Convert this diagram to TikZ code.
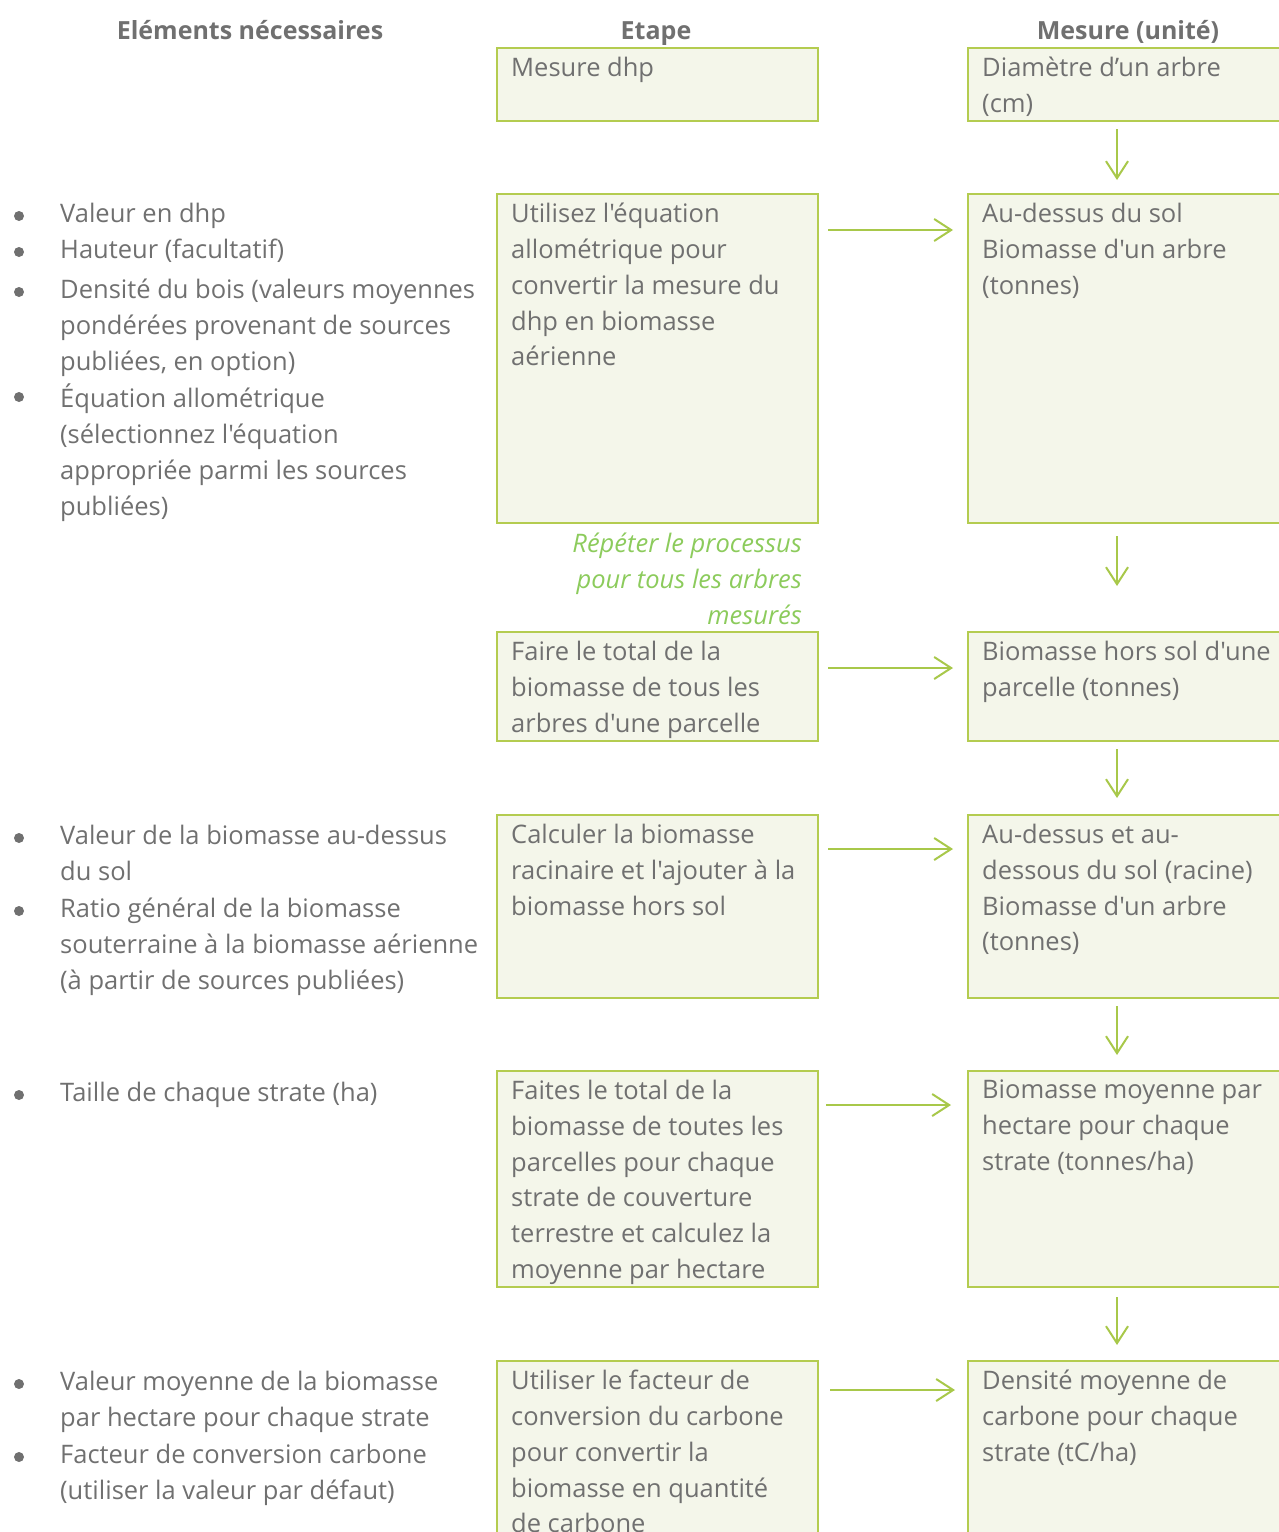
\documentclass[tikz,border=0pt]{standalone}
\usepackage{fontspec}
\newfontfamily\osf{Open Sans}
\usetikzlibrary{arrows.meta,calc}
\definecolor{txt}{HTML}{707070}
\definecolor{bord}{HTML}{B4CC50}
\definecolor{boxfill}{HTML}{F4F6EA}
\definecolor{arr}{HTML}{A8C84A}
\definecolor{ital}{HTML}{8CCB5C}
\tikzset{
  bx/.style={draw=bord, fill=boxfill, line width=2.2pt, anchor=north west, inner sep=0pt},
  tx/.style={anchor=north west, align=left, inner sep=0pt, text=txt,
     font=\osf\fontsize{25.5}{35.8}\selectfont, execute at begin node={\strut}},
  txm/.style={tx, yshift=-6pt},
  hd/.style={anchor=base, inner sep=0pt, text=txt,
     font=\osf\bfseries\fontsize{25}{35.8}\selectfont},
  bul/.style={circle, fill=txt, inner sep=0pt, minimum size=10pt},
  it/.style={anchor=north east, align=right, inner sep=0pt, text=ital, yshift=-6pt,
     font=\osf\itshape\fontsize{25.5}{35.8}\selectfont, execute at begin node={\strut}},
  ar/.style={draw=arr, line width=2pt, -{Straight Barb[length=17pt,width=22pt,line width=2pt]}}
}
\begin{document}
\begin{tikzpicture}[x=1pt,y=-1pt]
\useasboundingbox (0,0) rectangle (1278,1532);
% headers
\node[hd] (h1) at (250,39) {Eléments nécessaires};
\node[hd] (h2) at (656,39) {Etape};
\node[hd] (h3) at (1128,39) {Mesure (unité)};
% step boxes
\node[bx, minimum width=321pt, minimum height=73pt] (s1) at (496,47) {};
\node[bx, minimum width=321pt, minimum height=329pt] (s2) at (496,193) {};
\node[bx, minimum width=321pt, minimum height=109pt] (s3) at (496,631) {};
\node[bx, minimum width=321pt, minimum height=183pt] (s4) at (496,814) {};
\node[bx, minimum width=321pt, minimum height=216pt] (s5) at (496,1070) {};
\node[bx, minimum width=321pt, minimum height=200pt] (s6) at (496,1360) {};
% measure boxes
\node[bx, minimum width=340pt, minimum height=73pt] (m1) at (967,47) {};
\node[bx, minimum width=340pt, minimum height=329pt] (m2) at (967,193) {};
\node[bx, minimum width=340pt, minimum height=109pt] (m3) at (967,631) {};
\node[bx, minimum width=340pt, minimum height=183pt] (m4) at (967,814) {};
\node[bx, minimum width=340pt, minimum height=216pt] (m5) at (967,1070) {};
\node[bx, minimum width=340pt, minimum height=200pt] (m6) at (967,1360) {};
% step texts
\node[tx] (s1t) at ($(s1.north west)+(15,3.94)$) {Mesure dhp};
\node[txm] (s2t) at ($(s2.north west)+(15,3.94)$) {Utilisez l'équation\\allométrique pour\\convertir la mesure du\\dhp en biomasse\\aérienne};
\node[txm] (s3t) at ($(s3.north west)+(15,3.94)$) {Faire le total de la\\biomasse de tous les\\arbres d'une parcelle};
\node[txm] (s4t) at ($(s4.north west)+(15,3.94)$) {Calculer la biomasse\\racinaire et l'ajouter à la\\biomasse hors sol};
\node[txm] (s5t) at ($(s5.north west)+(15,3.94)$) {Faites le total de la\\biomasse de toutes les\\parcelles pour chaque\\strate de couverture\\terrestre et calculez la\\moyenne par hectare};
\node[txm] (s6t) at ($(s6.north west)+(15,3.94)$) {Utiliser le facteur de\\conversion du carbone\\pour convertir la\\biomasse en quantité\\de carbone};
% measure texts
\node[txm] (m1t) at ($(m1.north west)+(15,3.94)$) {Diamètre d’un arbre\\(cm)};
\node[txm] (m2t) at ($(m2.north west)+(15,3.94)$) {Au-dessus du sol\\Biomasse d'un arbre\\(tonnes)};
\node[txm] (m3t) at ($(m3.north west)+(15,3.94)$) {Biomasse hors sol d'une\\parcelle (tonnes)};
\node[txm] (m4t) at ($(m4.north west)+(15,3.94)$) {Au-dessus et au-\\dessous du sol (racine)\\Biomasse d'un arbre\\(tonnes)};
\node[txm] (m5t) at ($(m5.north west)+(15,3.94)$) {Biomasse moyenne par\\hectare pour chaque\\strate (tonnes/ha)};
\node[txm] (m6t) at ($(m6.north west)+(15,3.94)$) {Densité moyenne de\\carbone pour chaque\\strate (tC/ha)};
% italic note
\node[it] (rep) at (802,526.94) {Répéter le processus\\pour tous les arbres\\mesurés};
% left lists
\node[bul] (b1) at (19,216) {};
\node[tx] (l1) at (60,196.94) {Valeur en dhp};
\node[bul] (b2) at (19,252) {};
\node[tx] (l2) at (60,232.94) {Hauteur (facultatif)};
\node[bul] (b3) at (19,292) {};
\node[txm] (l3) at (60,272.94) {Densité du bois (valeurs moyennes\\pondérées provenant de sources\\publiées, en option)};
\node[bul] (b4) at (19,397) {};
\node[txm] (l4) at (60,377.94) {Équation allométrique\\(sélectionnez l'équation\\appropriée parmi les sources\\publiées)};
\node[bul] (b5) at (19,838) {};
\node[txm] (l5) at (60,818.94) {Valeur de la biomasse au-dessus\\du sol};
\node[bul] (b6) at (19,911) {};
\node[txm] (l6) at (60,891.94) {Ratio général de la biomasse\\souterraine à la biomasse aérienne\\(à partir de sources publiées)};
\node[bul] (b7) at (19,1095) {};
\node[tx] (l7) at (60,1075.94) {Taille de chaque strate (ha)};
\node[bul] (b8) at (19,1384) {};
\node[txm] (l8) at (60,1364.94) {Valeur moyenne de la biomasse\\par hectare pour chaque strate};
\node[bul] (b9) at (19,1457) {};
\node[txm] (l9) at (60,1437.94) {Facteur de conversion carbone\\(utiliser la valeur par défaut)};
% horizontal arrows
\draw[ar] ($(s2.north east)+(9,37)$) -- ($(m2.north west)+(-14,37)$);
\draw[ar] ($(s3.north east)+(9,37)$) -- ($(m3.north west)+(-14,37)$);
\draw[ar] ($(s4.north east)+(9,35)$) -- ($(m4.north west)+(-14,35)$);
\draw[ar] ($(s5.north east)+(7,35)$) -- ($(m5.north west)+(-16,35)$);
\draw[ar] ($(s6.north east)+(11,30)$) -- ($(m6.north west)+(-12,30)$);
% vertical arrows
\draw[ar] ($(m1.south west)+(150,7)$) -- ($(m2.north west)+(150,-13)$);
\draw[ar] ($(m2.south west)+(150,12)$) -- ($(m3.north west)+(150,-45)$);
\draw[ar] ($(m3.south west)+(150,7)$) -- ($(m4.north west)+(150,-16)$);
\draw[ar] ($(m4.south west)+(150,7)$) -- ($(m5.north west)+(150,-15)$);
\draw[ar] ($(m5.south west)+(150,9)$) -- ($(m6.north west)+(150,-15)$);
\end{tikzpicture}
\end{document}
